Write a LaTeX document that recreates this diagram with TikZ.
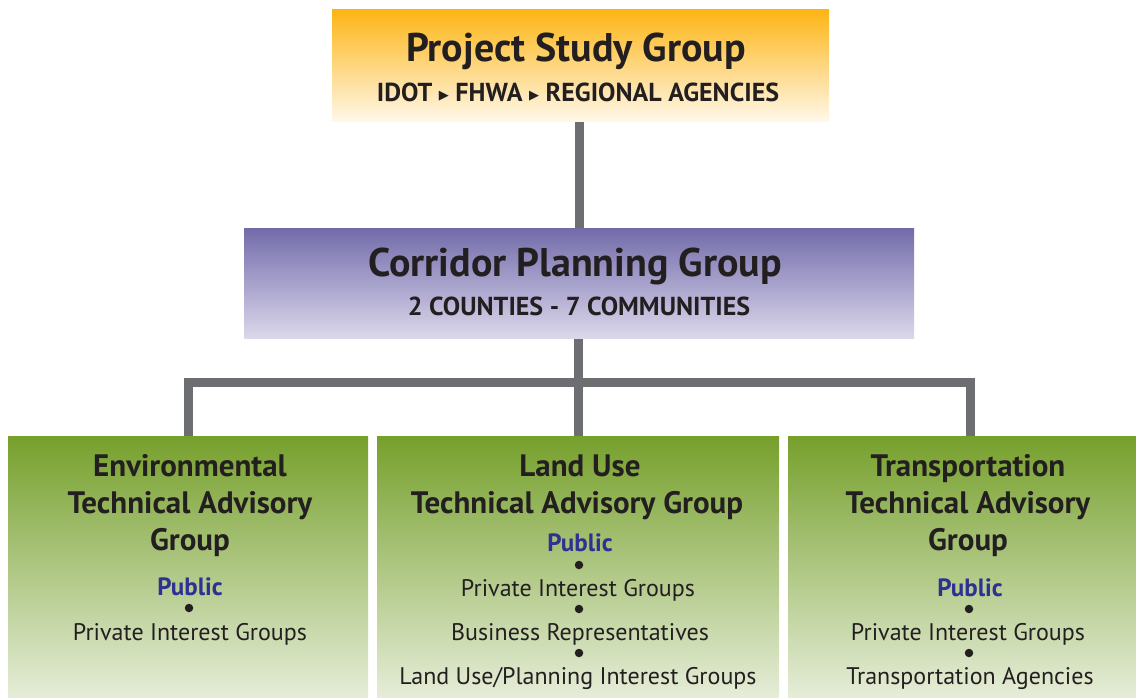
\documentclass[tikz,border=0pt]{standalone}
\usepackage{fontspec}
\setmainfont{PT Sans}
\newfontfamily\symfont{DejaVu Sans}
\usetikzlibrary{backgrounds}
\definecolor{orangeTop}{HTML}{FDB515}
\definecolor{orangeBot}{HTML}{FFF8EA}
\definecolor{purpleTop}{HTML}{726BAA}
\definecolor{purpleBot}{HTML}{DBD8EB}
\definecolor{greenTop}{HTML}{76A02C}
\definecolor{greenMid}{HTML}{A0BD6C}
\definecolor{greenBot}{HTML}{E6EDD9}
\definecolor{ink}{HTML}{231F20}
\definecolor{pubblue}{HTML}{2E3192}
\definecolor{connGray}{HTML}{6D6E71}
\newcommand{\sep}{\raisebox{2.5pt}{\symfont\fontsize{13}{13}\selectfont▶}}
\begin{document}
\begin{tikzpicture}[x=1pt,y=-1pt,
  box/.style={rectangle,draw=none,inner sep=0pt},
  conn/.style={draw=connGray,line width=9pt,line join=miter},
  title/.style={anchor=base,inner sep=0pt,text=ink,font=\fontsize{40}{42}\selectfont\bfseries},
  subtitle/.style={anchor=base,inner sep=0pt,text=ink,font=\fontsize{26}{28}\selectfont\bfseries},
  head/.style={anchor=base,inner sep=0pt,text=ink,font=\fontsize{31}{34}\selectfont\bfseries},
  pub/.style={anchor=base,inner sep=0pt,text=pubblue,font=\fontsize{25}{27}\selectfont\bfseries},
  item/.style={anchor=base,inner sep=0pt,text=ink,font=\fontsize{24}{26}\selectfont},
  bullet/.style={circle,fill=ink,draw=none,inner sep=0pt,minimum size=8.5pt}]
\useasboundingbox (0,0) rectangle (1136,698);

% group boxes
\node[box,top color=orangeTop,bottom color=orangeBot,minimum width=497,minimum height=112] (psg) at (580.5,66) {};
\node[box,top color=purpleTop,bottom color=purpleBot,minimum width=670,minimum height=110] (cpg) at (579,283) {};
\node[box,top color=greenTop,middle color=greenMid,bottom color=greenBot,minimum width=360,minimum height=262] (env) at (188,567) {};
\node[box,top color=greenTop,middle color=greenMid,bottom color=greenBot,minimum width=402,minimum height=262] (lu) at (578,567) {};
\node[box,top color=greenTop,middle color=greenMid,bottom color=greenBot,minimum width=348,minimum height=262] (tr) at (962,567) {};

% connectors
\coordinate (bus) at (0,382.5);
\coordinate (trin) at (970.5,436);
\begin{pgfonlayer}{background}
\draw[conn] (cpg.north |- psg.south) -- (cpg.north);
\draw[conn] (lu.north |- cpg.south) -- (lu.north);
\draw[conn] (env.north) -- (env.north |- bus) -- (trin |- bus) -- (trin);
\end{pgfonlayer}

% top group
\node[title] (psgT) at (576,62) {Project Study Group};
\node[subtitle] (psgS) at (578,102) {IDOT \sep\ FHWA \sep\ REGIONAL AGENCIES};

% corridor group
\node[title] (cpgT) at (575,276) {Corridor Planning Group};
\node[subtitle] (cpgS) at (579,315) {2 COUNTIES - 7 COMMUNITIES};

% environmental group
\node[head] (envA) at (190,476) {Environmental};
\node[head] (envB) at (190,513) {Technical Advisory};
\node[head] (envC) at (190,550) {Group};
\node[pub] (envP) at (190,595) {Public};
\node[bullet] (envD1) at (189,608) {};
\node[item] (envI1) at (190,640) {Private Interest Groups};

% land use group
\node[head] (luA) at (580,476) {Land Use};
\node[head] (luB) at (577,513) {Technical Advisory Group};
\node[pub] (luP) at (580,551) {Public};
\node[bullet] (luD1) at (579,565) {};
\node[item] (luI1) at (578,596) {Private Interest Groups};
\node[bullet] (luD2) at (579,609) {};
\node[item] (luI2) at (580,640) {Business Representatives};
\node[bullet] (luD3) at (579,653) {};
\node[item] (luI3) at (578,684) {Land Use/Planning Interest Groups};

% transportation group
\node[head] (trA) at (968,476) {Transportation};
\node[head] (trB) at (968,513) {Technical Advisory};
\node[head] (trC) at (968,550) {Group};
\node[pub] (trP) at (970,596) {Public};
\node[bullet] (trD1) at (969,609) {};
\node[item] (trI1) at (968,640) {Private Interest Groups};
\node[bullet] (trD2) at (969,653) {};
\node[item] (trI2) at (970,684) {Transportation Agencies};
\end{tikzpicture}
\end{document}
